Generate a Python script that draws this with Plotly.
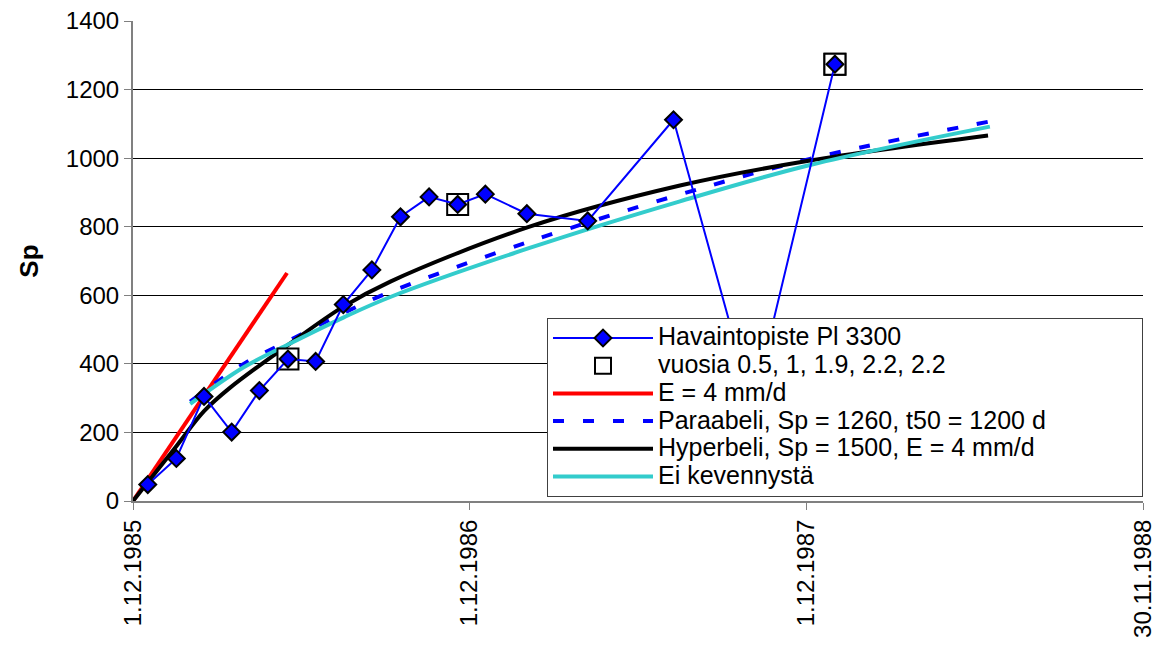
import pandas as pd
import plotly.graph_objects as go

START = pd.Timestamp("1985-12-01")

# observation series (days from 1.12.1985, Sp)
obs_days = [16, 47, 77, 107, 137, 168, 198, 228, 259, 290, 321, 352, 382, 427, 493, 586, 672, 761]
obs_sp = [48, 124, 305, 201, 322, 414, 407, 573, 674, 829, 887, 865, 895, 838, 817, 1112, 275, 1274]

# boxed observations
box_days = [168, 352, 672, 761, 761]
box_sp = [414, 865, 275, 1274, 1274]

# E = 4 mm/d line
red_days = [0, 167]
red_sp = [0, 665]

# Paraabeli, Sp = 1260, t50 = 1200 d
par_days = [62, 120, 167, 228, 279, 430, 593, 734, 929]
par_sp = [290, 400, 465, 548, 610, 757, 894, 998, 1107]

# Hyperbeli, Sp = 1500, E = 4 mm/d
hyp_days = [0, 47, 77, 105, 168, 228, 279, 430, 593, 734, 927]
hyp_sp = [0, 160, 262, 330, 455, 567, 640, 800, 920, 993, 1066]

# Ei kevennystä
cy_days = [62, 120, 167, 228, 279, 430, 593, 734, 929]
cy_sp = [283, 390, 455, 535, 595, 738, 874, 980, 1092]

tick_days = [0, 365, 730, 1095]
tick_labels = ["1.12.1985", "1.12.1986", "1.12.1987", "30.11.1988"]


def to_dates(days):
    return START + pd.to_timedelta(days, unit="D")


def legend_name(text):
    # bigger glyphs than the legend row height would give (Excel packs rows tightly)
    return f'<span style="font-size:25px">{text}</span>'


FONT = "Arial, Liberation Sans, sans-serif"

fig = go.Figure()

fig.add_trace(go.Scatter(
    x=to_dates(red_days), y=red_sp, mode="lines", name=legend_name("E = 4 mm/d"),
    line=dict(color="#FF0000", width=4), legendrank=3))
fig.add_trace(go.Scatter(
    x=to_dates(par_days), y=par_sp, mode="lines",
    name=legend_name("Paraabeli, Sp = 1260, t50 = 1200 d"),
    line=dict(color="#0000FF", width=4, dash="11px,19px", shape="spline"), legendrank=4))
fig.add_trace(go.Scatter(
    x=to_dates(hyp_days), y=hyp_sp, mode="lines",
    name=legend_name("Hyperbeli, Sp = 1500, E = 4 mm/d"),
    line=dict(color="#000000", width=4, shape="spline"), legendrank=5))
fig.add_trace(go.Scatter(
    x=to_dates(cy_days), y=cy_sp, mode="lines", name=legend_name("Ei kevennystä"),
    line=dict(color="#33CCCC", width=4, shape="spline"), legendrank=6))
fig.add_trace(go.Scatter(
    x=to_dates(box_days), y=box_sp, mode="markers",
    name=legend_name("vuosia 0.5, 1, 1.9, 2.2, 2.2"),
    marker=dict(symbol="square", size=21, color="white",
                line=dict(color="black", width=2)), legendrank=2))
fig.add_trace(go.Scatter(
    x=to_dates(obs_days), y=obs_sp, mode="lines+markers",
    name=legend_name("Havaintopiste Pl 3300"),
    line=dict(color="#0000FF", width=2),
    marker=dict(symbol="diamond", size=13, color="#0000FF",
                line=dict(color="black", width=2)), legendrank=1))

# page has an 8px body offset, so margins are shifted to land the plot area
# where the reference has it (x 133-1143, y ~20-501)
fig.update_layout(
    width=1168, height=657,
    margin=dict(l=125, r=33, t=13, b=164, autoexpand=False),
    paper_bgcolor="white", plot_bgcolor="white",
    font=dict(family=FONT, size=24, color="black"),
    legend=dict(
        orientation="h",
        x=1, xanchor="right", y=0.008, yanchor="bottom",
        bgcolor="white", bordercolor="#404040", borderwidth=1,
        font=dict(family=FONT, size=19, color="black"),
        itemwidth=100, tracegroupgap=0,
        entrywidth=479, entrywidthmode="pixels",
    ),
)

fig.update_xaxes(
    type="date", automargin=False,
    range=[to_dates([0])[0], to_dates([1095])[0]],
    tickvals=list(to_dates(tick_days)), ticktext=tick_labels,
    tickangle=-90, ticks="outside", ticklen=7, tickcolor="#808080",
    showgrid=False, showline=True, linecolor="#808080", linewidth=2,
    mirror=False, zeroline=False, ticklabeloverflow="allow",
    tickfont=dict(family=FONT, size=24, color="black"),
)
fig.update_yaxes(
    automargin=False,
    range=[0, 1400], dtick=200, tick0=0,
    ticks="outside", ticklen=7, tickcolor="#808080",
    showgrid=True, gridcolor="black", gridwidth=1,
    showline=True, linecolor="#808080", linewidth=2, zeroline=False,
    ticklabeloverflow="allow",
    tickfont=dict(family=FONT, size=24, color="black"),
    title=dict(text="<b>Sp</b>", font=dict(family=FONT, size=26, color="black"), standoff=20),
)

fig.write_html("out.html")
